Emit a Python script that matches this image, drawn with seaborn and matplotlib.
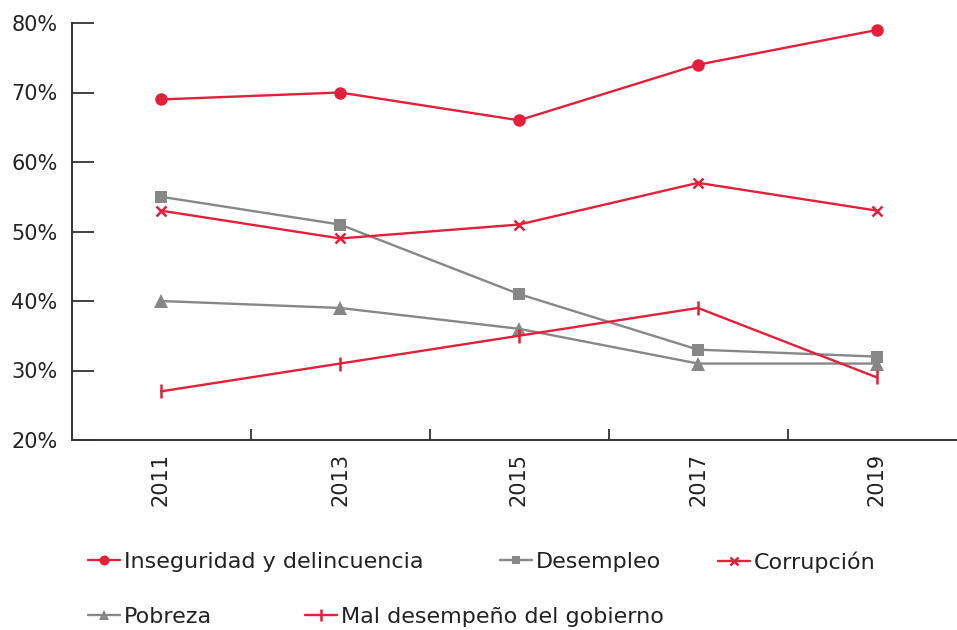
import matplotlib
matplotlib.use("Agg")
import matplotlib.pyplot as plt
import matplotlib.ticker as mticker
import seaborn as sns
import pandas as pd

years = ["2011", "2013", "2015", "2017", "2019"]
inseguridad = [69, 70, 66, 74, 79]
desempleo = [55, 51, 41, 33, 32]
corrupcion = [53, 49, 51, 57, 53]
pobreza = [40, 39, 36, 31, 31]
mal_desempeno = [27, 31, 35, 39, 29]

series_names = [
    "Inseguridad y delincuencia",
    "Desempleo",
    "Corrupción",
    "Pobreza",
    "Mal desempeño del gobierno",
]
series_values = [inseguridad, desempleo, corrupcion, pobreza, mal_desempeno]

RED = "#E31F3A"
GRAY = "#878787"
colors = [RED, GRAY, RED, GRAY, RED]
# marker, size, edge width
marker_styles = [("o", 9, 0), ("s", 8, 0), ("x", 7, 1.8), ("^", 9.5, 0), ("|", 10, 1.8)]

sns.set_theme(style="white")
plt.rcParams["font.family"] = ["DejaVu Sans"]
TEXT = "#222222"
AXC = "#333333"
FS = 15
LEG_FS = 16

W, H = 957, 630
fig = plt.figure(figsize=(W / 100, H / 100), dpi=100)
ax = fig.add_axes([71.5 / W, 1 - 440 / H, (966.5 - 71.5) / W, (440 - 23) / H])

pos = list(range(len(years)))
for name, vals, col, (mk, ms, mew) in zip(series_names, series_values, colors, marker_styles):
    df = pd.DataFrame({"pos": pos, "valor": vals})
    sns.lineplot(
        data=df, x="pos", y="valor", color=col, marker=mk, markersize=ms,
        markeredgewidth=mew, markeredgecolor=col, linewidth=1.7, label=name, ax=ax,
    )

handles, labels = ax.get_legend_handles_labels()
if ax.get_legend() is not None:
    ax.get_legend().remove()

ax.set_xlim(-0.5, 4.5)
ax.set_ylim(20, 80)
ax.yaxis.set_major_locator(mticker.MultipleLocator(10))
ax.yaxis.set_major_formatter(mticker.FuncFormatter(lambda v, p: f"{int(v)}%"))
ax.set_xticks(pos)
ax.set_xticklabels(years, rotation=90, va="top", ha="center")
ax.set_xticks([0.5, 1.5, 2.5, 3.5], minor=True)
ax.tick_params(axis="x", which="major", length=0, pad=9, labelsize=FS, labelcolor=TEXT)
ax.tick_params(axis="x", which="minor", direction="in", length=8, width=1.3, color=AXC, bottom=True)
ax.tick_params(axis="y", which="major", direction="in", length=16, width=1.3, color=AXC,
               pad=10, labelsize=FS, labelcolor=TEXT, left=True)
ax.set_xlabel("")
ax.set_ylabel("")
for s in ("top", "right"):
    ax.spines[s].set_visible(False)
for s in ("left", "bottom"):
    ax.spines[s].set_color(AXC)
    ax.spines[s].set_linewidth(1.4)

# legend entries laid out in two wrapped rows
positions = {
    "Inseguridad y delincuencia": (88, 562),
    "Desempleo": (500, 562),
    "Corrupción": (718, 562),
    "Pobreza": (88, 617),
    "Mal desempeño del gobierno": (305, 617),
}
hmap = dict(zip(labels, handles))
for name in series_names:
    x, y = positions[name]
    fig.legend(
        handles=[hmap[name]], labels=[name],
        loc="center left", bbox_to_anchor=(x / W, 1 - y / H),
        frameon=False, fontsize=LEG_FS, labelcolor=TEXT,
        handlelength=1.45, handletextpad=0.15, borderpad=0, borderaxespad=0,
        markerscale=0.8,
    )

fig.savefig("out.png", dpi=100)
